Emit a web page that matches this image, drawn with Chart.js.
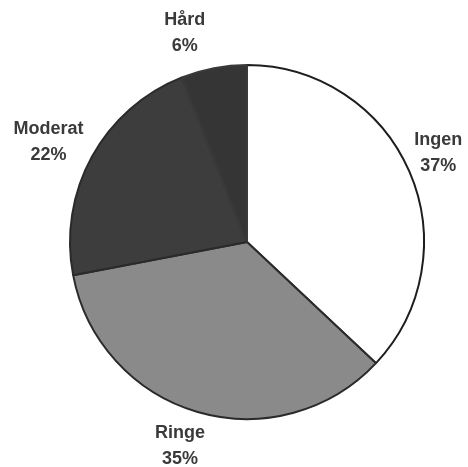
<!DOCTYPE html>
<html>
<head>
<meta charset="utf-8">
<script src="https://cdn.jsdelivr.net/npm/chart.js@4/dist/chart.umd.min.js"></script>
<style>
  html, body { margin: 0; padding: 0; background: #ffffff; }
  #wrap { width: 468px; height: 467px; position: relative; }
</style>
</head>
<body>
<div id="wrap"><canvas id="c"></canvas></div>
<script>
const categories = ["Ingen", "Ringe", "Moderat", "Hård"];
const percentages = [37, 35, 22, 6];
const sliceColors = ["#ffffff", "#8a8a8a", "#3d3d3d", "#353535"];

const outsideLabels = {
  id: "outsideLabels",
  afterDatasetsDraw(chart) {
    const ctx = chart.ctx;
    const meta = chart.getDatasetMeta(0);
    const nudge = [[-6, -4], [-7, -2], [-10, 4], [-22, 2]];
    ctx.save();
    ctx.font = "bold 18px 'Liberation Sans', Arial, sans-serif";
    ctx.fillStyle = "#3a3a3a";
    ctx.textAlign = "center";
    ctx.textBaseline = "middle";
    meta.data.forEach((arc, i) => {
      const p = arc.getProps(["x", "y", "startAngle", "endAngle", "outerRadius"], true);
      const mid = (p.startAngle + p.endAngle) / 2;
      const r = p.outerRadius + 38;
      const cx = p.x + Math.cos(mid) * r + nudge[i][0];
      const cy = p.y + Math.sin(mid) * r + nudge[i][1];
      ctx.fillText(categories[i], cx, cy - 13);
      ctx.fillText(percentages[i] + "%", cx, cy + 13);
    });
    ctx.restore();
  }
};

new Chart(document.getElementById("c"), {
  type: "pie",
  data: {
    labels: categories,
    datasets: [{
      data: percentages,
      backgroundColor: sliceColors,
      borderColor: ["#1e1e1e", "#2a2a2a", "#2a2a2a", "#3a3a3a"],
      borderWidth: 2
    }]
  },
  options: {
    responsive: true,
    maintainAspectRatio: false,
    animation: false,
    layout: { padding: { left: 69, right: 43, top: 64, bottom: 47 } },
    plugins: {
      legend: { display: false },
      tooltip: { enabled: false }
    }
  },
  plugins: [outsideLabels]
});
</script>
</body>
</html>
